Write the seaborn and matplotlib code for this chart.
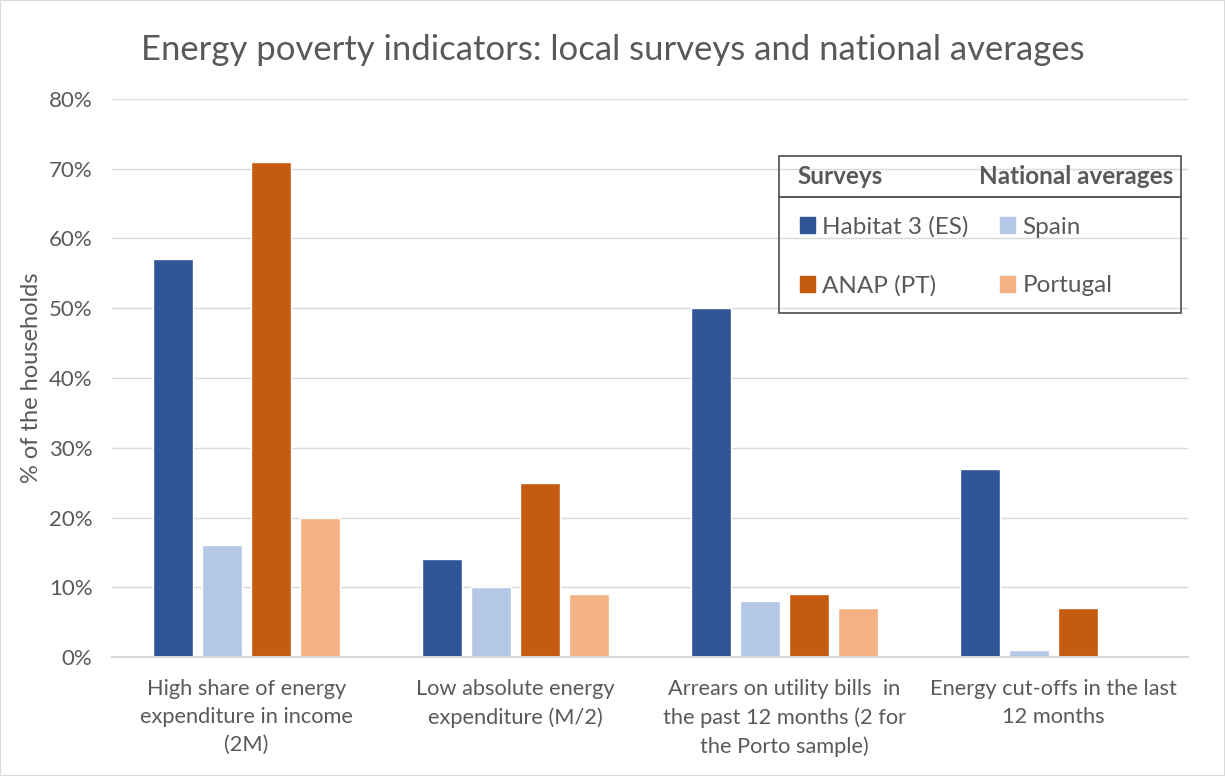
import matplotlib.pyplot as plt
import matplotlib.patches as mpatches
import matplotlib.ticker as mticker
import pandas as pd
import seaborn as sns

categories = [
    'High share of energy\nexpenditure in income\n(2M)',
    'Low absolute energy\nexpenditure (M/2)',
    'Arrears on utility bills  in\nthe past 12 months (2 for\nthe Porto sample)',
    'Energy cut-offs in the last\n12 months',
]
series_names = ['Habitat 3 (ES)', 'Spain', 'ANAP (PT)', 'Portugal']
habitat = [57, 14, 50, 27]
spain = [16, 10, 8, 1]
anap = [71, 25, 9, 7]
portugal = [20, 9, 7, 0]
colors = ['#2F5597', '#B4C7E7', '#C55A11', '#F4B183']

TEXT = '#595959'
GRID = '#D9D9D9'

rows = []
for name, vals in zip(series_names, [habitat, spain, anap, portugal]):
    for cat, v in zip(categories, vals):
        rows.append({'indicator': cat, 'series': name, 'value': v})
df = pd.DataFrame(rows)

sns.set_style('white')
plt.rcParams['font.family'] = ['Lato', 'DejaVu Sans']

fig = plt.figure(figsize=(12.25, 7.76), dpi=100)
ax = fig.add_axes([112 / 1225, 1 - 657 / 776, 1076 / 1225, 558 / 776])

sns.barplot(data=df, x='indicator', y='value', hue='series', hue_order=series_names,
            palette=colors, width=0.73, gap=0.18, saturation=1, ax=ax)

ax.set_ylim(0, 80)
ax.set_yticks(range(0, 81, 10))
ax.yaxis.set_major_formatter(mticker.FuncFormatter(lambda v, _: f'{v:.0f}%'))
ax.grid(axis='y', color=GRID, linewidth=1)
ax.set_axisbelow(True)
for side in ['top', 'right', 'left']:
    ax.spines[side].set_visible(False)
ax.spines['bottom'].set_color(GRID)
ax.spines['bottom'].set_linewidth(1.5)
ax.tick_params(axis='y', length=0, labelsize=16, colors=TEXT, pad=14)
ax.tick_params(axis='x', length=0, labelsize=15.7, colors=TEXT, pad=16)
for lab in ax.get_xticklabels():
    lab.set_linespacing(1.5)
ax.set_xlabel('')
ax.set_ylabel('% of the households', fontsize=17, color=TEXT, labelpad=5)

fig.text(0.5, 1 - 50 / 776, 'Energy poverty indicators: local surveys and national averages',
         ha='center', va='center', fontsize=24.9, color=TEXT)

# legend: header row and entries
handles, labels = ax.get_legend_handles_labels()
ax.get_legend().remove()
hmap = dict(zip(labels, handles))
order = ['Habitat 3 (ES)', 'ANAP (PT)', 'Spain', 'Portugal']
x0, x1 = (779 - 112) / 1076, (1181 - 112) / 1076
y_top, y_mid, y_bot = (657 - 156) / 558, (657 - 197) / 558, (657 - 313) / 558
leg = ax.legend([mpatches.Patch(color=hmap[l].get_facecolor()) for l in order], order,
                ncol=2, loc='upper left', bbox_to_anchor=((800 - 112) / 1076, (657 - 216) / 558),
                fontsize=17.5, labelcolor=TEXT, frameon=False,
                handlelength=0.62, handleheight=0.62, handletextpad=0.3, labelspacing=1.55,
                columnspacing=1.3, borderpad=0, borderaxespad=0)
for y0, y1 in [(y_mid, y_top), (y_bot, y_mid)]:
    ax.add_patch(mpatches.Rectangle((x0, y0), x1 - x0, y1 - y0, transform=ax.transAxes,
                                    fill=False, edgecolor=TEXT, linewidth=1.3, clip_on=False, zorder=5))
ax.text((797 - 112) / 1076, (y_top + y_mid) / 2, 'Surveys', transform=ax.transAxes,
        ha='left', va='center', fontsize=17.5, fontweight='bold', color=TEXT)
ax.text((1173 - 112) / 1076, (y_top + y_mid) / 2, 'National averages', transform=ax.transAxes,
        ha='right', va='center', fontsize=17.5, fontweight='bold', color=TEXT)

fig.patches.append(mpatches.Rectangle((0, 0), 1, 1, transform=fig.transFigure, fill=False,
                                      edgecolor=GRID, linewidth=1.5))

fig.savefig('out.png', dpi=100)
